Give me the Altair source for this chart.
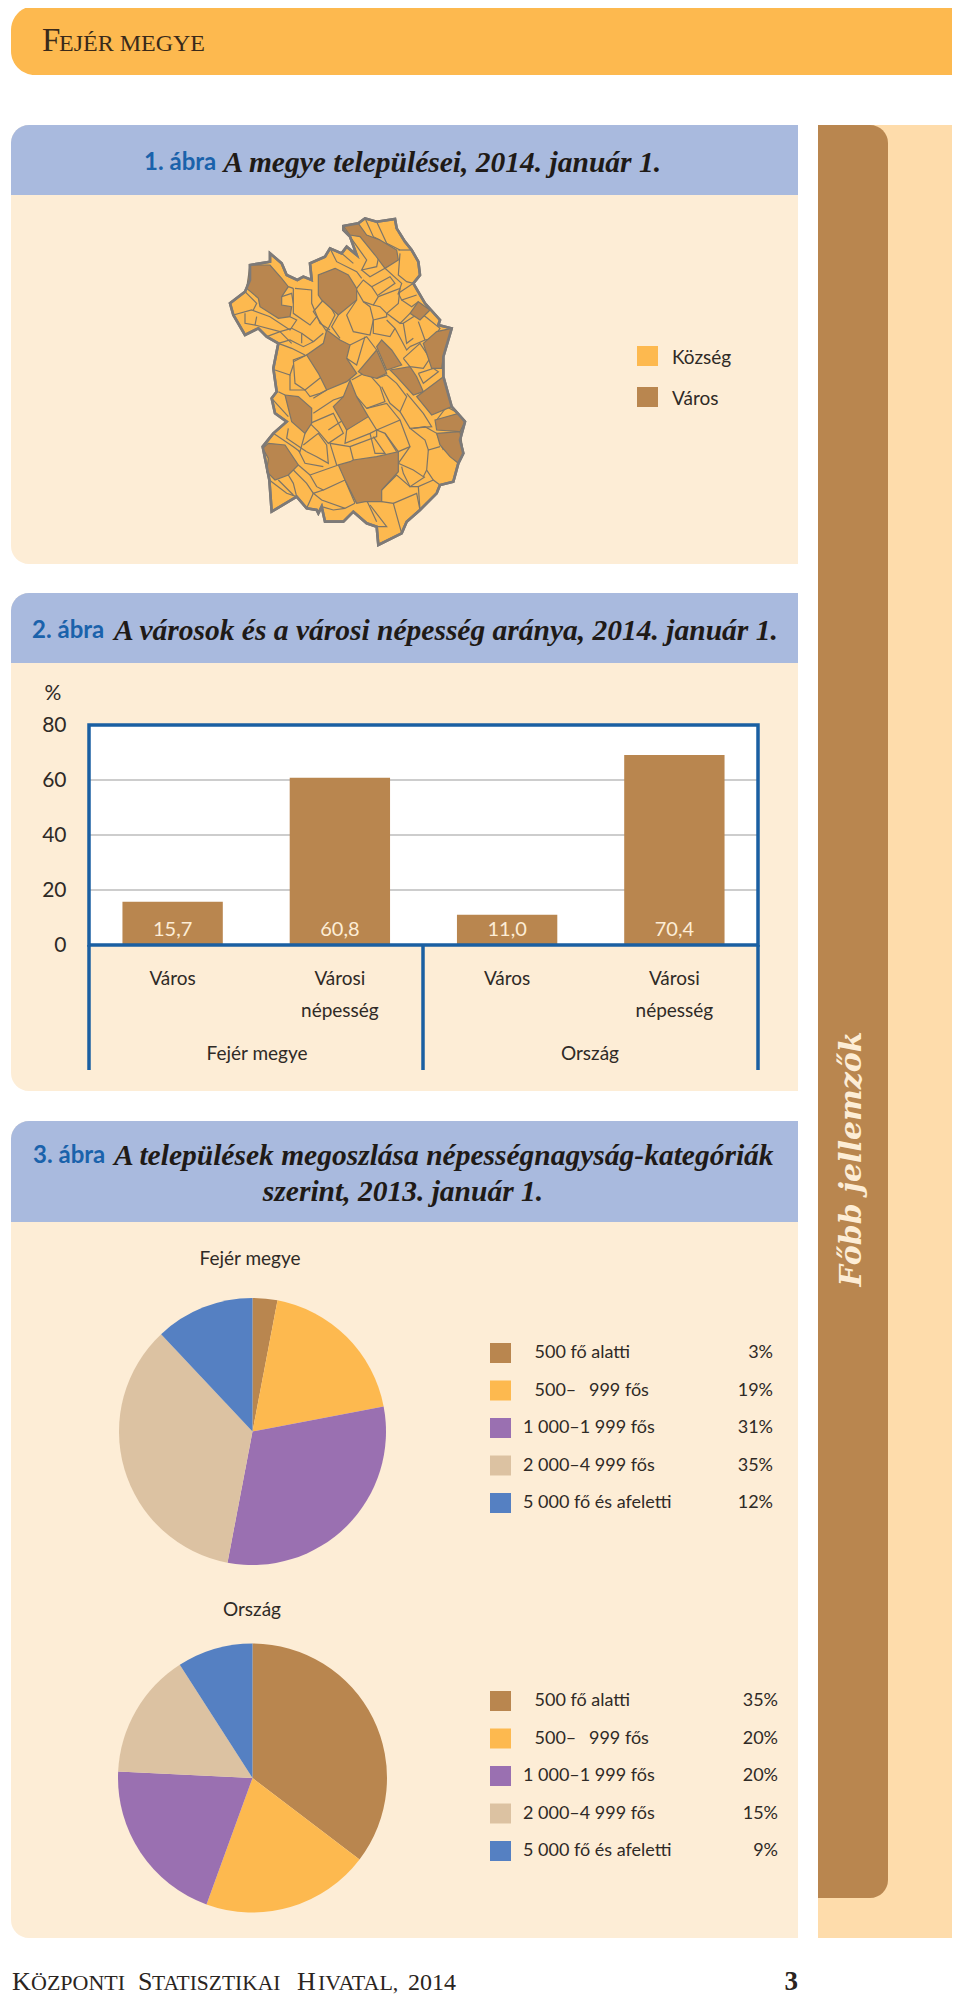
import altair as alt

# ---------- data ----------
bar_keys = ["Város", "Városi|népesség", "Város ", "Városi|népesség "]
bar_values = [15.7, 60.8, 11.0, 69.1]
bar_labels = ["15,7", "60,8", "11,0", "70,4"]
grid_values = [20, 40, 60]
y_ticks = [0, 20, 40, 60, 80]

pie_cats = ["500 fő alatti", "500–\u2007\u2009999 fős", "1 000–1 999 fős", "2 000–4 999 fős", "5 000 fő és afeletti"]
pie_colors = ["#b9864f", "#fdb94f", "#9a70b1", "#dcc2a2", "#5580c2"]
pie_fejer = [3, 19, 31, 35, 12]
pie_orszag = [35, 20, 20, 15, 9]

map_outline = [(400,78),(445,70),(465,55),(500,65),(555,57),(560,85),(585,125),(605,150),(625,185),(630,225),(610,250),
 (645,310),(690,360),(685,375),(725,385),(700,470),(700,530),(725,620),(765,665),(750,720),(760,760),(745,790),(730,845),
 (690,855),(680,880),(630,930),(590,965),(575,1000),(505,1035),(500,980),(470,970),(430,935),(400,965),(345,965),(335,920),
 (325,940),(320,930),(290,925),(260,890),(185,935),(178,840),(158,740),(190,700),(230,665),(195,640),(185,595),(200,575),
 (190,505),(205,430),(170,410),(145,385),(105,405),(70,345),(60,310),(105,275),(120,240),(120,195),(180,185),(180,160),
 (215,190),(230,225),(262,240),(280,230),(305,240),(300,190),(345,170),(360,145),(395,160),(410,140),(440,165),(420,110),(400,90)]

map_towns = [
 [(400,78),(445,70),(470,105),(510,120),(560,150),(565,180),(525,205),(495,165),(450,110),(420,105)],
 [(120,195),(180,195),(215,235),(235,260),(215,290),(215,315),(245,320),(240,350),(205,355),(150,320),(145,295),(110,265)],
 [(375,205),(415,225),(440,265),(440,300),(385,345),(335,300),(325,285),(325,225)],
 [(350,390),(390,420),(420,435),(410,475),(440,520),(410,545),(350,570),(325,520),(290,465),(340,430)],
 [(625,305),(660,330),(630,360),(600,340)],
 [(725,385),(700,470),(695,505),(665,505),(640,430),(680,395)],
 [(445,515),(500,450),(530,520),(500,535),(460,525)],
 [(515,420),(545,450),(575,495),(530,510),(500,440)],
 [(540,510),(600,500),(620,530),(640,575),(610,585),(560,530)],
 [(640,575),(700,530),(725,620),(665,645),(620,590)],
 [(675,660),(745,640),(765,665),(750,695),(680,690)],
 [(680,700),(750,695),(760,760),(745,790),(720,770),(690,735)],
 [(420,540),(440,590),(475,650),(410,690),(370,620),(400,590)],
 [(225,585),(265,590),(305,625),(305,670),(285,700),(245,665)],
 [(175,730),(225,735),(265,795),(235,825),(195,840),(170,815),(175,775),(158,745)],
 [(565,755),(565,815),(515,870),(515,905),(465,905),(440,910),(405,840),(385,795),(420,785),(430,780),(500,770)],
]

map_borders = [
 [(465,55),(490,110),(510,120)],[(500,65),(530,130),(570,150)],[(565,150),(605,150)],[(570,160),(565,225),(590,245),(610,250)],
 [(420,110),(470,180),(455,210),(500,200),(505,175)],[(360,145),(380,185),(440,215),(455,235)],[(395,160),(430,190)],
 [(455,210),(480,230),(525,205),(575,250),(565,280),(610,250)],[(440,265),(460,240),(485,260),(505,290),(490,315),(460,305),(440,270)],
 [(485,260),(540,230),(555,250),(505,285)],[(505,290),(570,265),(565,310),(530,340),(510,320),(490,315)],[(565,280),(575,300),(620,285)],
 [(575,300),(605,320),(625,305)],[(440,300),(410,345),(430,395),(480,405),(490,360),(480,320),(460,305)],[(490,360),(530,350),(530,340)],
 [(530,340),(570,370),(600,340)],[(570,370),(580,370),(590,430),(610,415)],[(490,360),(490,400),(540,410),(555,385),(530,360)],
 [(555,385),(590,450),(600,440)],[(610,350),(640,345),(690,385),(670,415),(645,420),(625,365)],[(580,370),(610,350)],[(600,440),(645,420)],
 [(580,475),(630,430),(660,475),(640,505),(600,500),(580,475)],[(385,345),(365,380),(390,415)],[(420,435),(470,410),(500,450)],
 [(410,475),(440,495),(465,410)],[(625,520),(670,505),(685,515),(640,550),(625,520)],[(500,535),(530,525),(560,550),(590,590),(570,635),(540,610),(515,560)],
 [(425,540),(470,515),(510,560),(525,605),(470,625),(440,590)],[(470,625),(530,610),(570,660),(500,690),(475,650)],
 [(590,580),(640,640),(665,680),(600,685),(570,635)],[(680,660),(710,620),(745,640)],[(410,690),(405,730),(480,700),(500,690),(500,710),(420,740)],
 [(500,690),(525,700),(560,755)],[(570,660),(600,740),(565,755),(525,700)],[(600,685),(645,720),(655,750),(690,740)],
 [(610,685),(645,680),(680,700),(700,750)],[(655,750),(650,810),(670,840),(690,855)],[(600,740),(565,790),(610,810),(640,830),(650,810)],
 [(575,800),(580,820),(600,860),(645,830)],[(515,870),(560,825),(600,860),(625,860),(670,840)],[(625,860),(630,930)],
 [(550,910),(620,880),(630,930)],[(515,905),(550,910),(575,1000)],[(465,890),(500,965)],[(480,915),(530,980),(500,980)],
 [(405,840),(340,870),(320,860),(300,825),(385,795)],[(340,870),(310,880),(335,900),(405,925),(435,910)],[(405,840),(435,910)],
 [(335,920),(370,930),(405,925)],[(380,795),(360,730),(420,740)],[(420,740),(430,780)],[(480,700),(495,760),(525,760),(490,710)],
 [(355,690),(400,660),(410,690)],[(300,670),(370,640),(400,700),(355,730),(325,695),(300,670)],[(310,640),(370,600),(400,590)],
 [(310,595),(350,570)],[(285,700),(300,670)],[(190,700),(250,740),(270,755),(285,700)],[(235,685),(230,715),(290,755)],
 [(280,735),(325,700),(350,735),(355,790),(320,770),(290,755)],[(265,750),(285,790),(340,800)],[(265,795),(300,825)],[(235,825),(250,850),(260,890)],
 [(178,840),(230,880),(260,890)],[(250,810),(290,850),(310,880),(290,925)],[(205,840),(250,885)],[(225,585),(205,575)],
 [(195,510),(240,525),(250,495)],[(250,485),(290,465)],[(290,465),(250,480),(255,550),(285,570),(335,530)],[(240,525),(240,570),(285,570)],
 [(285,570),(300,590),(330,580),(350,570)],[(205,430),(245,445),(285,465)],[(205,430),(240,420),(280,440),(310,425),(275,400)],[(310,425),(340,400)],
 [(255,265),(305,270),(305,310),(330,370),(360,390)],[(350,300),(375,345),(350,395),(310,335),(340,300)],[(250,265),(250,340),(300,375),(320,350)],
 [(235,260),(250,265)],[(215,290),(245,280),(250,310)],[(105,275),(140,310),(130,330)],[(70,345),(125,330),(180,350),(240,390),(260,360),(240,350)],
 [(105,340),(105,370),(135,375),(140,350)],[(135,375),(210,395),(245,385)],[(170,410),(210,395),(245,430)],[(245,385),(275,400),(275,430)],[(185,595),(235,650)],
]

# ---------- style ----------
W, H = 944, 1990
OX, OY = 8, 8
RIGHT = 952
ORANGE, CREAM, LIGHT, BLUEH, BROWN = "#fdb94f", "#fdedd6", "#fedcab", "#a9bade", "#b9864f"
FRAME, TXT, GREY, MAPGREY = "#1a5fa2", "#2f2a26", "#9c9c9c", "#7d7a78"
SANS = "Lato, sans-serif"
SERIF = "Liberation Serif, serif"
ONE = alt.Data(values=[{"a": 1}])
TITLE = 29.5


def rect(x0, y0, x1, y1, color, **kw):
    return alt.Chart(ONE).mark_rect(fill=color, **kw).encode(
        x=alt.value(x0 - OX), x2=alt.value(x1 - OX), y=alt.value(y0 - OY), y2=alt.value(y1 - OY))


def text(x, y, s, size=19, font=SANS, color=TXT, align="left", baseline="middle", **kw):
    return alt.Chart(alt.Data(values=[{"t": s}])).mark_text(
        font=font, fontSize=size, color=color, align=align, baseline=baseline, **kw
    ).encode(x=alt.value(x - OX), y=alt.value(y - OY), text="t:N")


layers = [
    # page furniture
    rect(11, 6, RIGHT, 75, ORANGE, cornerRadiusTopLeft=24, cornerRadiusBottomLeft=24),
    rect(818, 125, RIGHT, 1938, LIGHT),
    rect(818, 125, 888, 1898, BROWN, cornerRadiusTopRight=18, cornerRadiusBottomRight=18),
    rect(11, 125, 798, 564, CREAM, cornerRadiusTopLeft=18, cornerRadiusBottomLeft=18),
    rect(11, 125, 798, 195, BLUEH, cornerRadiusTopLeft=18),
    rect(11, 593, 798, 1091, CREAM, cornerRadiusTopLeft=18, cornerRadiusBottomLeft=18),
    rect(11, 593, 798, 663, BLUEH, cornerRadiusTopLeft=18),
    rect(11, 1121, 798, 1938, CREAM, cornerRadiusTopLeft=18, cornerRadiusBottomLeft=18),
    rect(11, 1121, 798, 1222, BLUEH, cornerRadiusTopLeft=18),
    # headings
    text(42, 51, "F", 33, SERIF, "#3a2a1a", baseline="alphabetic"),
    text(59, 51, "EJÉR MEGYE", 24, SERIF, "#3a2a1a", baseline="alphabetic"),
    text(144, 163, "1. ábra", 24, SANS, "#1a62ab", fontWeight="bold"),
    text(223.5, 163, "A megye települései, 2014. január 1.", TITLE, SERIF, "#1f1a17", fontStyle="italic", fontWeight="bold"),
    text(32, 631, "2. ábra", 24, SANS, "#1a62ab", fontWeight="bold"),
    text(114, 631, "A városok és a városi népesség aránya, 2014. január 1.", TITLE, SERIF, "#1f1a17", fontStyle="italic", fontWeight="bold"),
    text(33, 1156, "3. ábra", 24, SANS, "#1a62ab", fontWeight="bold"),
    text(114, 1156, "A települések megoszlása népességnagyság-kategóriák", TITLE, SERIF, "#1f1a17", fontStyle="italic", fontWeight="bold"),
    text(403, 1192, "szerint, 2013. január 1.", TITLE, SERIF, "#1f1a17", align="center", fontStyle="italic", fontWeight="bold"),
    text(852, 1159, "Főbb jellemzők", 30, "DejaVu Serif, serif", "#fdedd6", align="center", angle=270, fontStyle="italic", fontWeight="bold"),
]

# map
PROJ = dict(type="identity", scale=1 / 3, translate=[210 - OX, 200 - OY])


def poly(pts):
    ring = [list(p) for p in pts] + [list(pts[0])]
    return {"type": "Feature", "properties": {}, "geometry": {"type": "Polygon", "coordinates": [ring]}}


def line(pts):
    return {"type": "Feature", "properties": {}, "geometry": {"type": "LineString", "coordinates": [list(p) for p in pts]}}


layers += [
    alt.Chart(alt.Data(values=[poly(map_outline)])).mark_geoshape(fill=ORANGE, stroke=MAPGREY, strokeWidth=2.6).project(**PROJ),
    alt.Chart(alt.Data(values=[line(b) for b in map_borders])).mark_geoshape(filled=False, stroke="#7d7568", strokeWidth=1.2).project(**PROJ),
    alt.Chart(alt.Data(values=[poly(t) for t in map_towns])).mark_geoshape(fill=BROWN, stroke="#7d7568", strokeWidth=1.2).project(**PROJ),
    alt.Chart(alt.Data(values=[poly(map_outline)])).mark_geoshape(filled=False, stroke=MAPGREY, strokeWidth=2.6).project(**PROJ),
    rect(637, 346, 658, 366, ORANGE),
    rect(637, 387, 658, 407, BROWN),
    text(672, 358, "Község"),
    text(672, 399, "Város"),
]

# bar chart
x_scale = alt.Scale(domain=bar_keys, range=[89 - OX, 758 - OX], paddingInner=0.4, paddingOuter=0.2)
y_scale = alt.Scale(domain=[0, 80], range=[945 - OY, 725 - OY], nice=False)
bar_rows = [{"k": k, "v": v, "l": l, "z": 0} for k, v, l in zip(bar_keys, bar_values, bar_labels)]

layers += [
    rect(89, 725, 758, 945, "white"),
    alt.Chart(alt.Data(values=[{"g": g} for g in grid_values])).mark_rule(color=GREY, strokeWidth=1.2).encode(
        y=alt.Y("g:Q", scale=y_scale, axis=None), x=alt.value(89 - OX), x2=alt.value(758 - OX)),
    alt.Chart(alt.Data(values=bar_rows)).mark_bar(color=BROWN).encode(
        x=alt.X("k:N", sort=bar_keys, scale=x_scale, axis=alt.Axis(
            title=None, orient="bottom", offset=-(H - (945 - OY)), domain=False, ticks=False, labelAngle=0, zindex=1,
            labelPadding=24, labelFont=SANS, labelFontSize=19, labelColor=TXT, labelLineHeight=32, labelLimit=200,
            labelExpr="split(trim(datum.label),'|')")),
        y=alt.Y("v:Q", scale=y_scale, axis=alt.Axis(
            title=None, values=y_ticks, offset=-(89 - OX), domain=False, ticks=False, grid=False, zindex=1,
            labelPadding=23, labelFont=SANS, labelFontSize=21, labelColor=TXT))),
    alt.Chart(alt.Data(values=bar_rows)).mark_text(font=SANS, fontSize=20, color="#fdedd6", baseline="middle", dy=-15.5).encode(
        x=alt.X("k:N", sort=bar_keys, scale=x_scale, axis=None), y=alt.Y("z:Q", scale=y_scale, axis=None), text="l:N"),
    alt.Chart(ONE).mark_rect(fill=None, stroke=FRAME, strokeWidth=3.5).encode(
        x=alt.value(89 - OX), x2=alt.value(758 - OX), y=alt.value(725 - OY), y2=alt.value(945 - OY)),
    text(53, 694, "%", 21, align="center"),
    text(257, 1054, "Fejér megye", align="center"),
    text(590, 1054, "Ország", align="center"),
]
for sx in [89, 423, 758]:
    layers.append(alt.Chart(ONE).mark_rule(color=FRAME, strokeWidth=3.5).encode(
        x=alt.value(sx - OX), y=alt.value(945 - OY), y2=alt.value(1070 - OY)))

# pies
color_scale = alt.Scale(domain=pie_cats, range=pie_colors)


def pie(vals, cx, cy, r):
    rows = [{"c": c, "v": v, "i": i} for i, (c, v) in enumerate(zip(pie_cats, vals))]
    return alt.Chart(alt.Data(values=rows)).mark_arc(radius=r).encode(
        theta=alt.Theta("v:Q", stack=True),
        color=alt.Color("c:N", scale=color_scale, legend=None),
        order=alt.Order("i:Q"),
        x=alt.value(cx - OX), y=alt.value(cy - OY))


def legend(vals, y0, xr):
    out = []
    for i, (c, v, col) in enumerate(zip(pie_cats, vals, pie_colors)):
        y = y0 + i * 37.5
        out.append(rect(490, y - 10, 511, y + 10, col))
        out.append(text(534.5 if i < 2 else 523, y, c, 18))
        out.append(text(xr, y, f"{v}%", 18, align="right"))
    return out


layers += [
    text(250, 1259, "Fejér megye", align="center"),
    pie(pie_fejer, 252.5, 1431.5, 133.5),
    text(252, 1610, "Ország", align="center"),
    pie(pie_orszag, 252.5, 1778, 134.5),
]
layers += legend(pie_fejer, 1353, 773)
layers += legend(pie_orszag, 1701, 778)

# footer
FY = 1990
for x, s, size in [(12, "K", 26), (31, "ÖZPONTI", 22), (138, "S", 26), (152, "TATISZTIKAI", 21.5),
                   (297, "H", 26), (318, "IVATAL,", 22), (408, "2014", 24)]:
    layers.append(text(x, FY, s, size, SERIF, "#2a2420", baseline="alphabetic"))
layers.append(text(798, FY, "3", 27, SERIF, "#2a2420", align="right", baseline="alphabetic", fontWeight="bold"))

chart = alt.layer(*layers).resolve_scale(theta="independent").resolve_axis(x="independent", y="independent").properties(
    width=W, height=H, padding=0, autosize=alt.AutoSizeParams(type="none"), background="white"
).configure_view(stroke=None)

chart.save("out.html", embed_options={"renderer": "svg", "actions": False})
